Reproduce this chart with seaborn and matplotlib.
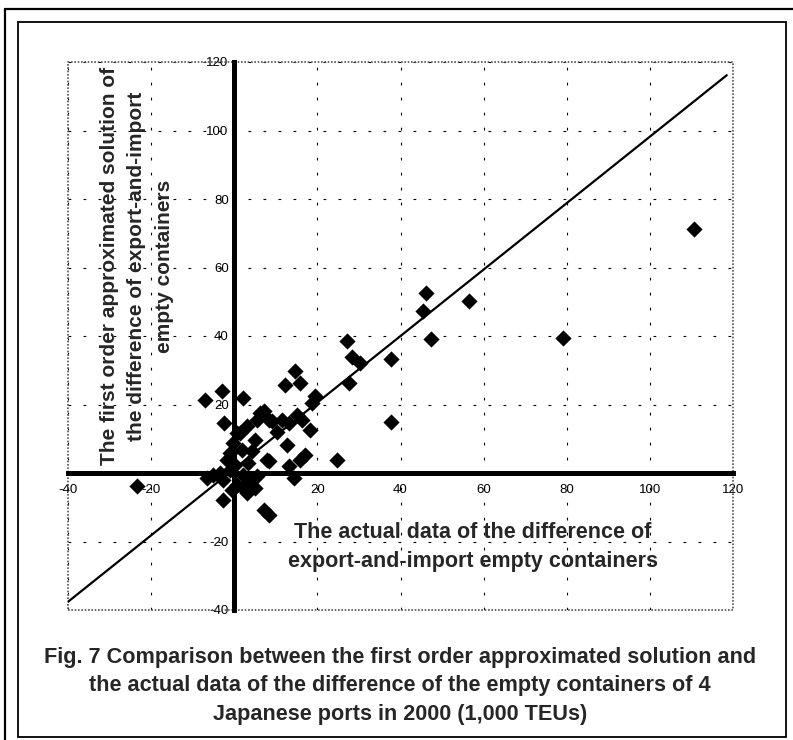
import numpy as np
import pandas as pd
import seaborn as sns
import matplotlib.pyplot as plt
from matplotlib.patches import Rectangle
from matplotlib.lines import Line2D

# actual difference (x) vs first order approximated solution (y), 1,000 TEUs
actual = [110.6, 79.0, 56.5, 46.2, 45.4, 47.4, 37.6, 37.8, 27.2, 28.3,
          30.2, 27.5, 14.7, 12.3, 15.9, 19.5, 18.7, 2.2, 7.1, 5.5,
          9.1, 11.5, 15.1, 16.3, 18.3, 13.1, 1.4, 7.9, 3.4, 17.1,
          15.9, 13.1, 14.3, 24.7, 5.0, -7.0, -3.0, -2.4, -23.4, 6.3,
          8.3, 0.6, 3.1, 5.0, -0.2, -1.0, 1.8, 4.3, 8.3, 12.7,
          -1.8, -5.0, -6.6, -3.4, -2.6, -1.0, 0.2, 2.2, 3.9, 5.5,
          0.6, 2.2, -2.6, 3.1, 7.1, 8.3, -0.6, 10.2]
approx = [71.2, 39.5, 50.3, 52.6, 47.2, 39.2, 33.4, 15.0, 38.4, 34.0,
          32.0, 26.3, 29.7, 25.8, 26.3, 22.4, 20.4, 21.9, 18.0, 15.6,
          15.1, 15.6, 17.0, 15.6, 12.6, 14.6, 11.7, 3.9, 2.9, 5.3,
          3.9, 1.9, -1.5, 3.9, -4.4, 21.2, 23.9, 14.6, -3.9, 17.5,
          15.6, 11.7, 13.6, 9.7, 8.8, 5.8, 6.8, 6.3, 3.4, 8.3,
          3.9, -0.5, -1.5, 0.0, -2.0, 1.0, 2.4, -0.5, -2.0, -1.0,
          -3.4, -4.4, -7.8, -5.8, -10.7, -12.2, -4.9, 12.0]

# fitted line
fit_slope = 0.97
fit_intercept = 1.2
fit_range = [-40, 118.5]

x_ticks = [-40, -20, 20, 40, 60, 80, 100, 120]
y_ticks = [-40, -20, 20, 40, 60, 80, 100, 120]

df = pd.DataFrame({'actual': actual, 'approx': approx})
fit_x = np.array(fit_range)
fit_df = pd.DataFrame({'x': fit_x, 'y': fit_slope * fit_x + fit_intercept})

sns.set_style('white')
plt.rcParams['font.family'] = ['Liberation Sans', 'DejaVu Sans']
plt.rcParams['axes.unicode_minus'] = False

W, H = 793, 740
fig = plt.figure(figsize=(W / 100, H / 100), dpi=100, facecolor='white')
ax = fig.add_axes([68 / W, 1 - 610 / H, (733 - 68) / W, (610 - 62) / H])

# grid
for v in x_ticks:
    ax.axvline(v, color='black', lw=0.8, ls=(0, (2.5, 11)), zorder=0)
for v in y_ticks:
    ax.axhline(v, color='black', lw=0.8, ls=(0, (2.5, 11)), zorder=0)

sns.lineplot(data=fit_df, x='x', y='y', color='black', lw=1.6, ax=ax, zorder=3)
sns.scatterplot(data=df, x='actual', y='approx', marker='D', color='black',
                s=68, linewidth=0, ax=ax, zorder=4)

ax.set_xlim(-40, 120)
ax.set_ylim(-40, 120)
ax.set_xticks(x_ticks)
ax.set_yticks(y_ticks)
ax.set_xlabel('')
ax.set_ylabel('')

# axes crossing at the origin
for side in ['left', 'bottom']:
    ax.spines[side].set_position(('data', 0))
    ax.spines[side].set_linewidth(3.6)
    ax.spines[side].set_color('black')
    ax.spines[side].set_zorder(2)
for side in ['top', 'right']:
    ax.spines[side].set_visible(False)
ax.add_patch(Rectangle((0, 0), 1, 1, transform=ax.transAxes, fill=False,
                       ec='#555555', lw=1.2, ls=(0, (1, 1)), zorder=1,
                       clip_on=False))
ax.tick_params(direction='inout', length=4, width=3, labelsize=9.5,
               colors='black')
ax.tick_params(axis='x', pad=6)
ax.tick_params(axis='y', pad=2)

fig.text(137 / W, 1 - 266 / H,
         'The first order approximated solution of\n'
         'the difference of export-and-import\n'
         'empty containers',
         rotation=90, ha='center', va='center', multialignment='center',
         fontsize=15, fontweight='bold', linespacing=1.55)
fig.text(473 / W, 1 - 547 / H,
         'The actual data of the difference of\n'
         'export-and-import empty containers',
         ha='center', va='center', multialignment='center',
         fontsize=15.5, fontweight='bold', linespacing=1.5)

fig.text(400 / W, 1 - 686 / H,
         'Fig. 7 Comparison between the first order approximated solution and\n'
         'the actual data of the difference of the empty containers of 4\n'
         'Japanese ports in 2000 (1,000 TEUs)',
         ha='center', va='center', multialignment='center',
         fontsize=15.6, fontweight='bold', linespacing=1.45)

# page frames
fig.add_artist(Rectangle((18 / W, 1 - 737 / H), (786 - 18) / W, (737 - 22) / H,
                         transform=fig.transFigure, fill=False, ec='black', lw=1.3))
fig.add_artist(Line2D([5 / W, 5 / W], [0, 1 - 9 / H], transform=fig.transFigure,
                      color='black', lw=1.6))
fig.add_artist(Line2D([5 / W, 1], [1 - 9 / H, 1 - 9 / H], transform=fig.transFigure,
                      color='black', lw=1.6))

fig.savefig('out.png', dpi=100, facecolor='white')
